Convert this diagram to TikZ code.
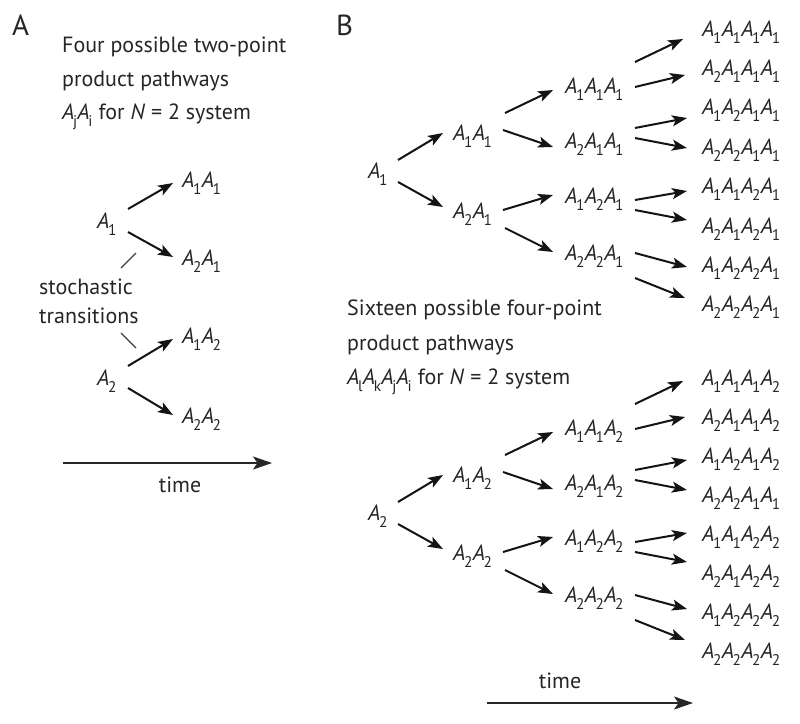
\documentclass[tikz,border=0pt]{standalone}
\usepackage{fontspec}
\setmainfont{PT Sans}
\usepackage{graphicx}
\usetikzlibrary{arrows.meta,calc}
\newcommand\Ax[1]{\textit{A}\kern-0.06em\raisebox{-0.32em}{\scalebox{0.7}{#1}}\kern0.01em\relax}
\newcommand\arr[4]{\draw[arr] ($(#1.base west)+(#2)$) -- ($(#3.base west)+(#4)$);}
\tikzset{
  lbl/.style={font=\fontsize{22}{26}\selectfont, text=black!85, inner sep=0pt, anchor=base west},
  big/.style={font=\fontsize{29}{32}\selectfont, text=black!85, inner sep=0pt, anchor=base west},
  arr/.style={line width=2pt, draw=black!92, -{Stealth[length=15pt,width=11pt,inset=3.5pt]}},
  tarr/.style={line width=1.8pt, draw=black!85, -{Stealth[length=19pt,width=13pt,inset=4.5pt]}},
  ptr/.style={line width=1.2pt, draw=black!75},
}
\begin{document}
\begin{tikzpicture}[x=1pt,y=-1pt]
\fill[white] (0,0) rectangle (800,723);
\useasboundingbox (0,0) rectangle (800,723);
% ---------- Panel A ----------
\node[big] (labA) at (12,35) {A};
\node[lbl] (ta1) at (62,52) {Four possible two-point};
\node[lbl] (ta2) at (62,86) {product pathways};
\node[lbl] (ta3) at (62,119) {\Ax{j}\Ax{i} for \textit{N} = 2 system};
\node[lbl] (a1) at (97,228) {\Ax1};
\node[lbl] (a2) at (97,385) {\Ax2};
\node[lbl] (a11) at (182,187) {\Ax1\Ax1};
\node[lbl] (a21) at (182,265) {\Ax2\Ax1};
\node[lbl] (a12) at (182,343) {\Ax1\Ax2};
\node[lbl] (a22) at (182,423) {\Ax2\Ax2};
\arr{a1}{31,-19}{a11}{-9,-4}
\arr{a1}{31,4}{a21}{-9,-8}
\arr{a2}{31,-19}{a12}{-9,-4}
\arr{a2}{31,3}{a22}{-9,-8}
\node[lbl] (st1) at (39,294) {stochastic};
\node[lbl] (st2) at (39,323) {transitions};
\draw[ptr] ($(st1.base west)+(82,-26)$) -- ($(st1.base west)+(97,-41)$);
\draw[ptr] ($(st2.base west)+(82,10)$) -- ($(st2.base west)+(97,25)$);
\coordinate (tA0) at (63,463);
\coordinate (tA1) at (272,463);
\draw[tarr] (tA0) -- (tA1);
\node[lbl, anchor=base] (timeA) at (180,492) {time};
% ---------- Panel B ----------
\node[big] (labB) at (336,35) {B};
\node[lbl] (tb1) at (347,315) {Sixteen possible four-point};
\node[lbl] (tb2) at (347,350) {product pathways};
\node[lbl] (tb3) at (347,384) {\Ax{l}\Ax{k}\Ax{j}\Ax{i} for \textit{N} = 2 system};
% top tree
\node[lbl] (b1) at (368,178) {\Ax1};
\node[lbl] (b11) at (453,140) {\Ax1\Ax1};
\node[lbl] (b21) at (453,218) {\Ax2\Ax1};
\node[lbl] (c111) at (565,93) {\Ax1\Ax1\Ax1};
\node[lbl] (c211) at (565,148) {\Ax2\Ax1\Ax1};
\node[lbl] (c121) at (565,203) {\Ax1\Ax2\Ax1};
\node[lbl] (c221) at (565,260) {\Ax2\Ax2\Ax1};
\node[lbl] (r0) at (702,36) {\Ax1\Ax1\Ax1\Ax1};
\node[lbl] (r1) at (702,75.4) {\Ax2\Ax1\Ax1\Ax1};
\node[lbl] (r2) at (702,114.8) {\Ax1\Ax2\Ax1\Ax1};
\node[lbl] (r3) at (702,154.2) {\Ax2\Ax2\Ax1\Ax1};
\node[lbl] (r4) at (702,193.6) {\Ax1\Ax1\Ax2\Ax1};
\node[lbl] (r5) at (702,233) {\Ax2\Ax1\Ax2\Ax1};
\node[lbl] (r6) at (702,272.4) {\Ax1\Ax2\Ax2\Ax1};
\node[lbl] (r7) at (702,311.8) {\Ax2\Ax2\Ax2\Ax1};
\arr{b1}{30,-18}{b11}{-10,-7}
\arr{b1}{30,4}{b21}{-10,-11}
\arr{b11}{52,-27}{c111}{-12,-3}
\arr{b11}{50,-10}{c211}{-12,-1}
\arr{b21}{50,-8}{c121}{-12,-8}
\arr{b21}{52,10}{c221}{-12,-8}
\arr{c111}{70,-31}{r0}{-19,3}
\arr{c111}{70,-6}{r1}{-17,-0.4}
\arr{c211}{70,-20}{r2}{-15,3.2}
\arr{c211}{70,-10}{r3}{-15,-6.2}
\arr{c121}{70,-3}{r4}{-15,-2.6}
\arr{c121}{70,7}{r5}{-15,-13}
\arr{c221}{70,-7}{r6}{-15,-5.4}
\arr{c221}{70,18}{r7}{-17,-13.8}
% bottom tree
\node[lbl] (b2) at (368,520) {\Ax2};
\node[lbl] (b12) at (453,482) {\Ax1\Ax2};
\node[lbl] (b22) at (453,560) {\Ax2\Ax2};
\node[lbl] (c112) at (565,435) {\Ax1\Ax1\Ax2};
\node[lbl] (c212) at (565,490) {\Ax2\Ax1\Ax2};
\node[lbl] (c122) at (565,545) {\Ax1\Ax2\Ax2};
\node[lbl] (c222) at (565,602) {\Ax2\Ax2\Ax2};
\node[lbl] (s0) at (702,385) {\Ax1\Ax1\Ax1\Ax2};
\node[lbl] (s1) at (702,424) {\Ax2\Ax1\Ax1\Ax2};
\node[lbl] (s2) at (702,463) {\Ax1\Ax2\Ax1\Ax2};
\node[lbl] (s3) at (702,502) {\Ax2\Ax2\Ax1\Ax1};
\node[lbl] (s4) at (702,541) {\Ax1\Ax1\Ax2\Ax2};
\node[lbl] (s5) at (702,580) {\Ax2\Ax1\Ax2\Ax2};
\node[lbl] (s6) at (702,619) {\Ax1\Ax2\Ax2\Ax2};
\node[lbl] (s7) at (702,658) {\Ax2\Ax2\Ax2\Ax2};
\arr{b2}{30,-18}{b12}{-10,-7}
\arr{b2}{30,4}{b22}{-10,-11}
\arr{b12}{52,-27}{c112}{-12,-3}
\arr{b12}{50,-10}{c212}{-12,-1}
\arr{b22}{50,-8}{c122}{-12,-8}
\arr{b22}{52,10}{c222}{-12,-8}
\arr{c112}{70,-31}{s0}{-19,-4}
\arr{c112}{70,-6}{s1}{-17,-7}
\arr{c212}{70,-20}{s2}{-15,-3}
\arr{c212}{70,-10}{s3}{-15,-12}
\arr{c122}{70,-3}{s4}{-15,-8}
\arr{c122}{70,7}{s5}{-15,-18}
\arr{c222}{70,-7}{s6}{-15,-10}
\arr{c222}{70,18}{s7}{-17,-18}
\coordinate (tB0) at (487,703);
\coordinate (tB1) at (693,703);
\draw[tarr] (tB0) -- (tB1);
\node[lbl, anchor=base] (timeB) at (560,688) {time};
\end{tikzpicture}
\end{document}
